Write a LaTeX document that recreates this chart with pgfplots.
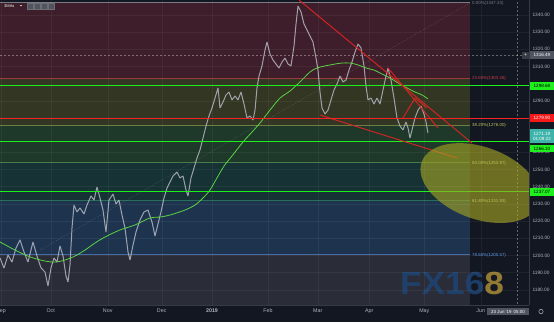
\documentclass[border=0pt]{standalone}
\usepackage{pgfplots}
\pgfplotsset{compat=1.18}
\usepackage{fontspec}
\setmainfont{Liberation Sans}
\usetikzlibrary{shapes.geometric}
\definecolor{bgdark}{RGB}{19,23,34}
\definecolor{axisline}{RGB}{54,58,70}
\definecolor{tickgrey}{RGB}{178,181,190}
\definecolor{band1}{RGB}{62,30,42}
\definecolor{band2}{RGB}{50,54,34}
\definecolor{band3}{RGB}{30,56,42}
\definecolor{band4}{RGB}{22,50,52}
\definecolor{band5}{RGB}{30,52,78}
\definecolor{band6}{RGB}{42,44,55}
\definecolor{fib0}{RGB}{120,123,134}
\definecolor{fib236}{RGB}{200,60,70}
\definecolor{fib382}{RGB}{190,195,90}
\definecolor{fib50}{RGB}{110,190,110}
\definecolor{fib618}{RGB}{60,170,130}
\definecolor{fib786}{RGB}{90,150,230}
\definecolor{lime}{RGB}{30,240,30}
\definecolor{redl}{RGB}{245,25,25}
\definecolor{trendred}{RGB}{225,35,35}
\definecolor{macol}{RGB}{90,210,70}
\definecolor{pricecol}{RGB}{180,182,194}
\definecolor{ellcol}{RGB}{165,165,35}
\definecolor{tealbox}{RGB}{60,180,170}
\definecolor{greybox}{RGB}{80,84,96}
\definecolor{wmblue}{RGB}{30,68,115}
\definecolor{wmgold}{RGB}{170,140,55}
\begin{document}
\begin{tikzpicture}
\fill[bgdark] (0,0) rectangle (554pt,322pt);
\begin{axis}[
 at={(0pt,17pt)}, anchor=south west,
 width=529pt, height=305pt, scale only axis,
 xmin=0, xmax=529, ymin=1171.1, ymax=1348.7,
 axis on top,
 axis x line*=bottom, axis y line*=right,
 axis line style={draw=axisline, line width=0.6pt},
 major tick length=0pt,
 ytick={1180,1190,1200,1210,1220,1230,1240,1250,1260,1280,1290,1310,1320,1330,1340},
 xtick={1,50.7,107.7,161.7,212,268,317.7,369.3,424.3,480.7},
 xticklabels={Sep,Oct,Nov,Dec,\textbf{2019},Feb,Mar,Apr,May,Jun},
 yticklabel style={font=\fontsize{4.8}{5}\selectfont, text=tickgrey, /pgf/number format/.cd, fixed, fixed zerofill, precision=2, 1000 sep={}, assume math mode=true},
 xticklabel style={font=\fontsize{5.3}{6}\selectfont, text=tickgrey},
 ymajorgrids, xmajorgrids,
 grid style={draw=white, opacity=0.05, line width=0.4pt},
]
% fib bands
\addplot[draw=none, fill=band1] coordinates {(0,1347.33) (470,1347.33) (470,1303.26) (0,1303.26)} -- cycle;
\addplot[draw=none, fill=band2] coordinates {(0,1303.26) (470,1303.26) (470,1276.00) (0,1276.00)} -- cycle;
\addplot[draw=none, fill=band3] coordinates {(0,1276.00) (470,1276.00) (470,1253.97) (0,1253.97)} -- cycle;
\addplot[draw=none, fill=band4] coordinates {(0,1253.97) (470,1253.97) (470,1231.93) (0,1231.93)} -- cycle;
\addplot[draw=none, fill=band5] coordinates {(0,1231.93) (470,1231.93) (470,1200.57) (0,1200.57)} -- cycle;
\addplot[draw=none, fill=band6] coordinates {(0,1200.57) (470,1200.57) (470,1160.60) (0,1160.60)} -- cycle;
% fib level lines
\addplot[fib0, line width=0.5pt] coordinates {(0,1347.33) (470,1347.33)};
\addplot[fib236, line width=0.5pt, opacity=0.7] coordinates {(0,1303.26) (470,1303.26)};
\addplot[fib382, line width=0.5pt, opacity=0.5] coordinates {(0,1276.00) (470,1276.00)};
\addplot[fib50, line width=0.5pt, opacity=0.5] coordinates {(0,1253.97) (470,1253.97)};
\addplot[fib618, line width=0.5pt, opacity=0.5] coordinates {(0,1231.93) (470,1231.93)};
\addplot[fib786, line width=0.5pt, opacity=0.6] coordinates {(0,1200.57) (470,1200.57)};
% fib diagonal
\addplot[white, opacity=0.18, dash pattern=on 1.5pt off 1.5pt, line width=0.4pt] coordinates {(40,1203.1) (470,1346.95)};
% crosshair
\addplot[white, opacity=0.35, dash pattern=on 2pt off 2pt, line width=0.4pt] coordinates {(0,1316.49) (529,1316.49)};
\addplot[white, opacity=0.35, dash pattern=on 2pt off 2pt, line width=0.4pt] coordinates {(517,1160) (517,1350)};
% price
\addplot[pricecol, line width=1.0pt, opacity=0.85, line join=bevel] coordinates {
(0,1198.5) (4,1192.6) (8,1200.2) (12,1196.1) (16,1204.3) (20,1209.0) (24,1202.0) (28,1196.1)
(33,1207.8) (37,1199.6) (41,1192.7) (45,1190.3) (48,1182.2) (51,1192.7) (54,1198.5) (57,1196.1)
(60,1205.5) (63,1199.6) (66,1188.0) (68,1184.5) (70,1194.4) (72,1215.9) (74,1229.3) (77,1225.3)
(80,1227.6) (84,1224.1) (87,1229.3) (91,1234.6) (94,1232.2) (97,1239.8) (100,1233.4) (103,1226.4)
(106,1213.6) (109,1232.2) (113,1235.7) (116,1229.9) (119,1232.2) (122,1223.5) (125,1215.9) (128,1202.0)
(130,1197.3) (133,1206.0) (136,1213.6) (140,1220.6) (144,1225.3) (148,1226.4) (152,1219.4) (155,1211.3)
(158,1218.3) (161,1225.3) (164,1233.4) (167,1239.2) (170,1242.7) (173,1246.2) (177,1248.5) (180,1245.1)
(183,1246.2) (186,1238.1) (188,1234.6) (191,1245.1) (194,1250.9) (197,1256.7) (200,1261.4) (203,1268.3)
(206,1275.3) (209,1281.2) (212,1285.8) (215,1291.6) (218,1297.5) (220,1285.8) (223,1289.3) (226,1293.4)
(229,1295.1) (232,1290.5) (235,1292.8) (238,1290.5) (241,1295.1) (244,1288.1) (247,1280.0) (250,1281.2)
(253,1278.8) (255,1284.6) (257,1297.5) (259,1304.4) (262,1310.3) (265,1319.6) (267,1324.2) (270,1317.3)
(273,1313.8) (276,1311.4) (279,1309.1) (282,1312.6) (285,1314.9) (288,1311.4) (291,1310.3) (294,1321.9)
(296,1334.7) (298,1345.2) (301,1341.7) (304,1334.7) (307,1331.2) (310,1327.7) (313,1324.2) (316,1314.9)
(318,1307.9) (320,1295.1) (322,1285.8) (325,1282.3) (328,1284.6) (331,1290.5) (334,1296.3) (337,1299.8)
(340,1304.4) (343,1301.0) (346,1302.1) (349,1307.9) (352,1312.6) (355,1318.4) (358,1323.1) (361,1320.8)
(364,1310.3) (366,1298.6) (368,1290.5) (371,1291.6) (374,1288.1) (377,1291.6) (380,1288.1) (383,1296.3)
(386,1304.4) (388,1309.1) (391,1302.1) (394,1291.6) (397,1280.0) (400,1275.3) (403,1273.0) (406,1277.7)
(408,1274.2) (410,1268.3) (412,1273.0) (415,1280.0) (418,1284.6) (421,1287.0) (424,1282.3) (426,1277.7)
(428,1271.2)};
% moving average
\addplot[macol, line width=0.8pt, smooth] coordinates {
(0,1207.8) (15,1203.1) (30,1199.1) (45,1196.7) (55,1196.1) (65,1197.3) (75,1199.6) (85,1203.1)
(95,1207.2) (105,1210.7) (120,1214.8) (135,1217.7) (150,1221.8) (160,1222.3) (170,1223.5) (185,1226.4)
(195,1229.3) (203,1233.4) (210,1238.1) (217,1245.1) (224,1252.0) (232,1257.9) (243,1266.0) (252,1271.8)
(260,1277.1) (270,1284.6) (280,1291.6) (290,1295.7) (300,1301.0) (310,1306.8) (317,1309.1) (325,1310.3)
(335,1311.4) (342,1312.0) (350,1312.0) (358,1310.9) (366,1309.1) (374,1307.9) (382,1305.6) (390,1303.3)
(398,1300.4) (407,1297.5) (415,1295.1) (422,1293.4) (428,1291.1)};
% horizontal levels
\addplot[lime, line width=0.9pt] coordinates {(0,1298.68) (529,1298.68)};
\addplot[lime, line width=0.9pt] coordinates {(0,1266.10) (529,1266.10)};
\addplot[lime, line width=0.9pt] coordinates {(0,1237.07) (529,1237.07)};
\addplot[redl, line width=0.9pt] coordinates {(0,1279.90) (529,1279.90)};
% trend lines
\addplot[trendred, line width=1.0pt, opacity=0.9] coordinates {(299,1348.7) (472,1265.4)};
\addplot[trendred, line width=1.0pt, opacity=0.9] coordinates {(388,1309.1) (438,1274.2)};
\addplot[trendred, line width=1.0pt, opacity=0.9] coordinates {(403,1280.0) (415,1291.6) (427,1285.8)};
\addplot[trendred, line width=1.0pt, opacity=0.9] coordinates {(320,1281.7) (457,1256.7)};
% ellipse
\node[ellipse, fill=ellcol, opacity=0.62, minimum width=124pt, minimum height=72pt, rotate=-20, inner sep=0pt] at (axis cs:480,1242.1) {};
% fib labels
\node[anchor=west, inner sep=0pt, font=\fontsize{4.4}{5}\selectfont, text=fib0] at (axis cs:472,1346.6) {0.00\%(1347.33)};
\node[anchor=west, inner sep=0pt, font=\fontsize{4.4}{5}\selectfont, text=fib236] at (axis cs:472,1303.1) {23.60\%(1303.26)};
\node[anchor=west, inner sep=0pt, font=\fontsize{4.4}{5}\selectfont, text=fib382] at (axis cs:472,1275.5) {38.20\%(1276.00)};
\node[anchor=west, inner sep=0pt, font=\fontsize{4.4}{5}\selectfont, text=fib382] at (axis cs:472,1253.5) {50.00\%(1253.97)};
\node[anchor=west, inner sep=0pt, font=\fontsize{4.4}{5}\selectfont, text=fib382] at (axis cs:472,1231.2) {61.80\%(1231.93)};
\node[anchor=west, inner sep=0pt, font=\fontsize{4.4}{5}\selectfont, text=fib786] at (axis cs:472,1199.8) {78.60\%(1200.57)};
% watermark
\node[anchor=west, inner sep=0pt, font=\fontsize{32}{32}\selectfont\bfseries, text=wmblue, opacity=0.85, xscale=1.1] at (axis cs:400,1183.5) {FX16\textcolor{wmgold}{8}};
\end{axis}
% price axis labels
\tikzset{pl/.style={inner sep=0pt, minimum width=24.5pt, font=\fontsize{4.6}{5}\selectfont, anchor=west}}
\fill[greybox!70!black] (522pt,262.7pt) rectangle (529pt,270.3pt);
\node[text=white, font=\fontsize{5}{5}\selectfont] at (525.5pt,266.5pt) {+};
\node[pl, fill=greybox, text=white, minimum height=7.6pt] at (529.5pt,266.7pt) {1316.49};
\node[pl, fill=lime, text=black, minimum height=8pt] at (529.5pt,236.1pt) {1298.68};
\node[pl, fill=redl, text=white, minimum height=8pt] at (529.5pt,203.9pt) {1279.90};
\node[pl, fill=tealbox, text=white, minimum height=14pt, align=center] at (529.5pt,186pt) {1271.19\\01:09:22};
\node[pl, fill=lime, text=black, minimum height=7.5pt] at (529.5pt,173.5pt) {1266.10};
\node[pl, fill=lime, text=black, minimum height=8pt] at (529.5pt,130.2pt) {1237.07};
% time crosshair label
\node[fill=greybox, text=white, inner sep=0pt, minimum width=42pt, minimum height=7.5pt, font=\fontsize{4.4}{5}\selectfont] at (508pt,10.5pt) {23 Jun '19\enspace 05:00};
\draw[tickgrey, line width=0.5pt] (541pt,10.5pt) circle (2.2pt);
% top-left legend
\node[anchor=west, inner sep=0pt, text=white, font=\fontsize{4}{4}\selectfont] at (4pt,316pt) {3MAs};
\draw[white, line width=0.3pt] (20pt,316.8pt) -- (21pt,315.8pt) -- (22pt,316.8pt);
\foreach \bx in {27,34,41,48} {\draw[fill=greybox, draw=tickgrey!60!black, line width=0.3pt] (\bx pt,313pt) rectangle ++(6pt,6pt);}
\pgfresetboundingbox
\useasboundingbox (0,0) rectangle (554pt,322pt);
\end{tikzpicture}
\end{document}
